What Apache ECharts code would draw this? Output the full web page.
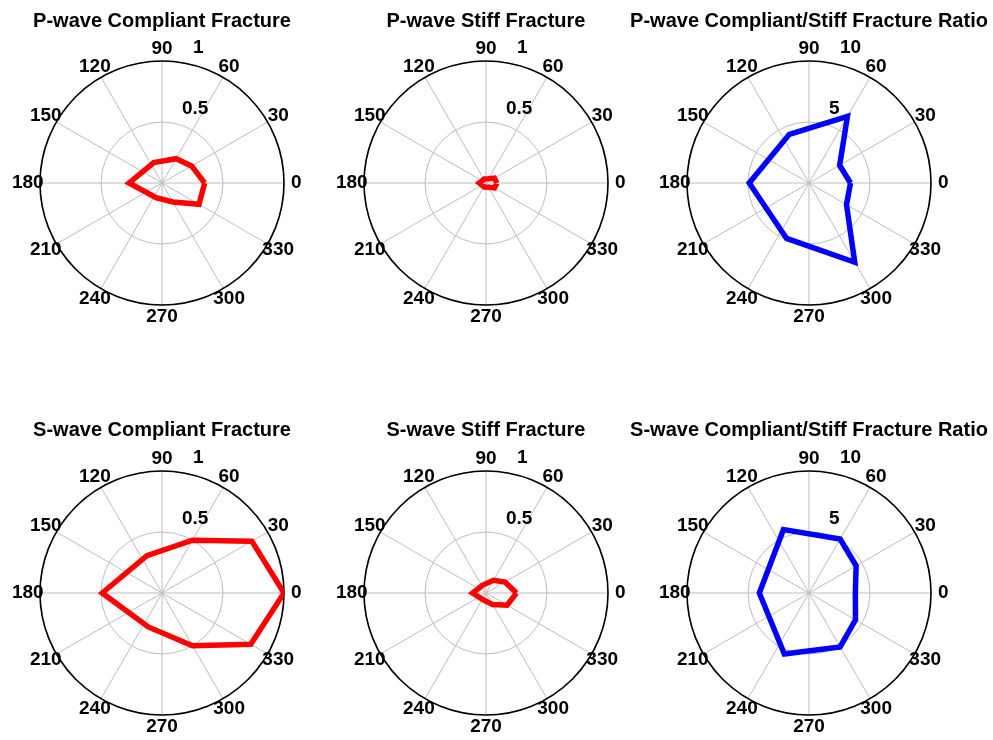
<!DOCTYPE html>
<html><head><meta charset="utf-8">
<script src="https://cdn.jsdelivr.net/npm/echarts@6/dist/echarts.min.js"></script>
<style>html,body{margin:0;padding:0;background:#fff}#c{width:993px;height:740px}</style>
</head><body><div id="c"></div>
<script>
const titles = ['P-wave Compliant Fracture','P-wave Stiff Fracture','P-wave Compliant/Stiff Fracture Ratio',
                'S-wave Compliant Fracture','S-wave Stiff Fracture','S-wave Compliant/Stiff Fracture Ratio'];
const angles = [0, 30, 60, 112, 180, 248, 300, 330];
const pCompliant = [0.35, 0.28, 0.23, 0.18, 0.27, 0.13, 0.18, 0.35];
const pStiff     = [0.09, 0.08, 0.04, 0.035, 0.055, 0.035, 0.04, 0.08];
const pRatio     = [3.4, 2.9, 6.3, 4.3, 4.9, 4.9, 7.5, 3.55];
const sCompliant = [1.0, 0.85, 0.5, 0.33, 0.49, 0.30, 0.5, 0.84];
const sStiff     = [0.25, 0.18, 0.12, 0.07, 0.11, 0.06, 0.11, 0.2];
const sRatio     = [3.8, 4.46, 5.1, 5.6, 4.07, 5.4, 5.1, 4.4];
const angleTicks = [0, 30, 60, 90, 120, 150, 180, 210, 240, 270, 300, 330];
const radialTicksFraction = [0.5, 1];
const radialTicksRatio = [5, 10];

const panels = [
  {title: titles[0], vals: pCompliant, max: 1, ticks: radialTicksFraction, color: '#ff0000'},
  {title: titles[1], vals: pStiff, max: 1, ticks: radialTicksFraction, color: '#ff0000'},
  {title: titles[2], vals: pRatio, max: 10, ticks: radialTicksRatio, color: '#0000ff'},
  {title: titles[3], vals: sCompliant, max: 1, ticks: radialTicksFraction, color: '#ff0000'},
  {title: titles[4], vals: sStiff, max: 1, ticks: radialTicksFraction, color: '#ff0000'},
  {title: titles[5], vals: sRatio, max: 10, ticks: radialTicksRatio, color: '#0000ff'}
];
const centersX = [162, 486, 809];
const centersY = [183, 593];
const titleTop = [11, 420];
const R = 122;
const FONT = '"Liberation Sans", Arial, sans-serif';

const option = {
  animation: false,
  backgroundColor: '#fff',
  title: [], polar: [], angleAxis: [], radiusAxis: [], series: []
};

const labelStyle = {show: true, position: 'inside', formatter: d => d.name, color: '#000', opacity: 1,
                    textBorderWidth: 0, fontSize: 19, fontWeight: 'bold', fontFamily: FONT, verticalAlign: 'middle'};

panels.forEach((p, i) => {
  const cx = centersX[i % 3], cy = centersY[Math.floor(i / 3)];
  option.title.push({
    text: p.title, left: cx, top: titleTop[Math.floor(i / 3)], textAlign: 'center', padding: 0,
    textStyle: {fontSize: 20, fontWeight: 'bold', fontFamily: FONT, color: '#000'}
  });
  option.polar.push({center: [cx, cy], radius: R});
  option.angleAxis.push({
    polarIndex: i, type: 'value', min: 0, max: 360, interval: 30,
    startAngle: 0, clockwise: false, z: 3,
    axisLine: {show: true, lineStyle: {color: '#000', width: 1.6}},
    axisTick: {show: false}, axisLabel: {show: false},
    splitLine: {show: true, lineStyle: {color: '#bdbdbd', width: 1}}
  });
  option.radiusAxis.push({
    polarIndex: i, type: 'value', min: 0, max: p.max, interval: p.max / 2, z: 1,
    axisLine: {show: false}, axisTick: {show: false}, axisLabel: {show: false},
    splitLine: {show: true, lineStyle: {color: '#bdbdbd', width: 1}}
  });
  const pts = angles.map((a, k) => [p.vals[k], a]);
  pts.push([p.vals[0], 360]);
  option.series.push({
    type: 'line', coordinateSystem: 'polar', polarIndex: i, data: pts,
    showSymbol: false, symbol: 'none', clip: false, z: 5, silent: true,
    lineStyle: {color: p.color, width: 5.5, join: 'miter'}
  });
  // angle tick labels
  option.series.push({
    type: 'scatter', coordinateSystem: 'polar', polarIndex: i, clip: false, silent: true, z: 6,
    symbolSize: 1, itemStyle: {color: 'rgba(0,0,0,0)', opacity: 1},
    data: angleTicks.map(a => ({value: [1.1 * p.max, a], name: String(a)})),
    label: Object.assign({}, labelStyle, {align: 'center'})
  });
  // radial tick labels
  option.series.push({
    type: 'scatter', coordinateSystem: 'polar', polarIndex: i, clip: false, silent: true, z: 6,
    symbolSize: 1, itemStyle: {color: 'rgba(0,0,0,0)', opacity: 1},
    data: p.ticks.map((t, k) => ({value: [t, 90], name: String(t),
                                  label: {offset: k === 0 ? [20, -13] : [31, -13]}})),
    label: Object.assign({}, labelStyle, {align: 'left'})
  });
});

const chart = echarts.init(document.getElementById('c'), null, {renderer: 'canvas'});
chart.setOption(option);
</script>
</body></html>
